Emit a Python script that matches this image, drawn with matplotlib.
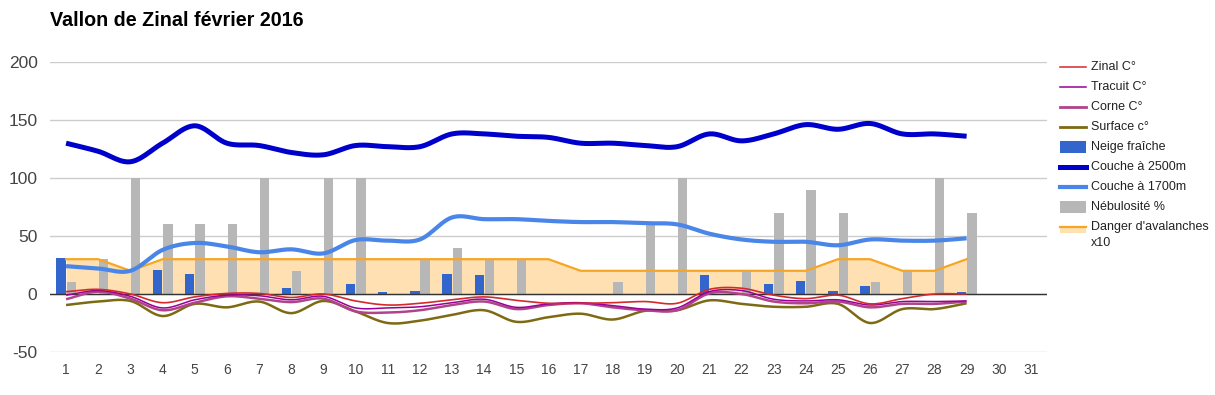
import numpy as np
import matplotlib
matplotlib.use("Agg")
import matplotlib.pyplot as plt
from matplotlib.lines import Line2D
from matplotlib.patches import Rectangle

plt.rcParams['font.family'] = ['Liberation Sans', 'DejaVu Sans']
plt.rcParams['axes.unicode_minus'] = False

# Data (February 2016, days 1..29)
days = list(range(1, 30))
all_days = list(range(1, 32))

zinal = [2, 4, 0, -7.5, -2.5, 0.5, 0.5, -3, 0, -6, -9.5, -8, -5, -2.5, -5.5,
         -8, -8, -7.5, -6.5, -8, 4, 5, -1, -4, -1, -8.5, -4, 0, 0]
tracuit = [-1, 3, -2, -12, -5, -1, -1.5, -5, -2, -12, -12, -11, -7.5, -4.5, -11.5,
           -8.5, -7.5, -10, -13, -12, 2, 3, -4.5, -6, -5, -9.5, -6.5, -6.5, -6]
corne = [-4.5, 2, -4, -14, -7.5, -2, -4, -7, -4, -15, -16, -14, -9.5, -6.5, -13,
         -9.5, -8, -11.5, -14, -14, 0.5, 0, -6.5, -8, -6.5, -11.5, -8.5, -8.5, -6.5]
surface = [-9.5, -6.5, -6, -19, -8.5, -11.5, -6.5, -16.5, -6, -15, -25, -23, -18, -14, -24,
           -20, -17, -22, -14.5, -14, -5.5, -8.5, -11, -11, -8.5, -25, -13, -13, -8]
neige = [31, 0, 0, 21, 17, 0, 0, 5, 0, 9, 2, 3, 17, 16, 0,
         0, 0, 0, 0, 0, 16, 0, 9, 11, 3, 7, 0, 0, 1.5]
couche_2500 = [130, 123, 114, 130, 145, 130, 128, 122, 120, 128, 127, 127, 138, 138, 136,
               135, 130, 130, 128, 127, 138, 132, 138, 146, 142, 147, 138, 138, 136]
couche_1700 = [24, 22, 20, 38, 44, 41, 36, 38.5, 35, 46.5, 46, 47, 66, 64.5, 64.5,
               63, 62, 62, 61, 60, 52, 47, 45, 45, 42, 47, 46, 46, 48]
nebulosite = [10, 30, 100, 60, 60, 60, 100, 20, 100, 100, 0, 30, 40, 30, 30,
              0, 0, 10, 60, 100, 0, 20, 70, 90, 70, 10, 20, 100, 70]
danger = [30, 30, 20, 30, 30, 30, 30, 30, 30, 30, 30, 30, 30, 30, 30,
          30, 20, 20, 20, 20, 20, 20, 20, 20, 30, 30, 20, 20, 30]

c_zinal = '#d42a2a'
c_tracuit = '#990099'
c_corne = '#b0448a'
c_surface = '#7d6a12'
c_neige = '#3366cc'
c_2500 = '#0000cc'
c_1700 = '#4a86e8'
c_neb = '#b7b7b7'
c_danger = '#f6a623'


def smooth(x, y, n=24):
    # cubic hermite with central-difference tangents (catmull-rom)
    x = np.asarray(x, float)
    y = np.asarray(y, float)
    m = np.gradient(y, x)
    xs, ys = [], []
    for i in range(len(x) - 1):
        h = x[i + 1] - x[i]
        t = np.linspace(0, 1, n, endpoint=False)
        h00 = 2 * t**3 - 3 * t**2 + 1
        h10 = t**3 - 2 * t**2 + t
        h01 = -2 * t**3 + 3 * t**2
        h11 = t**3 - t**2
        xs.append(x[i] + t * h)
        ys.append(h00 * y[i] + h10 * h * m[i] + h01 * y[i + 1] + h11 * h * m[i + 1])
    xs.append([x[-1]])
    ys.append([y[-1]])
    return np.concatenate(xs), np.concatenate(ys)


fig = plt.figure(figsize=(12.15, 3.95), dpi=100)
ax = fig.add_axes([50 / 1215, 43 / 395, 997 / 1215, 290 / 395])

# avalanche danger area
ax.fill_between(days, 0, danger, color='#ff9900', alpha=0.3, lw=0, zorder=1)

# bars
bw = 0.29
x = np.array(days)
ax.bar(x - 0.155, neige, width=bw, color=c_neige, zorder=2)
ax.bar(x + 0.165, nebulosite, width=bw, color=c_neb, zorder=2)

ax.plot(days, danger, color=c_danger, lw=1.6, zorder=3)
ax.axhline(0, color='#333333', lw=1, zorder=3)

# smoothed lines
for vals, col, lw in [(couche_2500, c_2500, 3.6), (couche_1700, c_1700, 3.0),
                      (surface, c_surface, 1.8), (corne, c_corne, 1.8),
                      (tracuit, c_tracuit, 1.1), (zinal, c_zinal, 1.2)]:
    sx, sy = smooth(days, vals)
    ax.plot(sx, sy, color=col, lw=lw, zorder=4, solid_capstyle='butt')

ax.set_xlim(0.5, 31.5)
ax.set_ylim(-50, 200)
ax.set_yticks([-50, 0, 50, 100, 150, 200])
ax.set_xticks(all_days)
ax.set_xticklabels([str(d) for d in all_days])
ax.grid(axis='y', color='#cccccc', lw=1, zorder=0)
ax.set_axisbelow(True)
for s in ax.spines.values():
    s.set_visible(False)
ax.tick_params(axis='y', length=0, pad=9, labelsize=12.5, labelcolor='#444444')
ax.tick_params(axis='x', length=0, pad=8, labelsize=10, labelcolor='#444444')

fig.text(50 / 1215, 1 - 21 / 395, 'Vallon de Zinal février 2016', fontsize=14.2,
         fontweight='bold', va='center', ha='left')

# legend drawn by hand
labels = ['Zinal C°', 'Tracuit C°', 'Corne C°', 'Surface c°', 'Neige fraîche',
          'Couche à 2500m', 'Couche à 1700m', 'Nébulosité %', "Danger d'avalanches"]
kinds = [('line', c_zinal, 1.1), ('line', c_tracuit, 1.1), ('line', c_corne, 2.0),
         ('line', c_surface, 2.0), ('box', c_neige, 0), ('line', c_2500, 3.6),
         ('line', c_1700, 3.0), ('box', c_neb, 0), ('area', c_danger, 1.6)]
W, H = 1215, 395
x0, x1 = 1060, 1086
for i, (lab, (kind, col, lw)) in enumerate(zip(labels, kinds)):
    yp = 67 + 20 * i
    fy = 1 - yp / H
    if kind == 'line':
        fig.add_artist(Line2D([x0 / W, x1 / W], [fy, fy], color=col, lw=lw))
    elif kind == 'box':
        fig.add_artist(Rectangle((x0 / W, 1 - (yp + 6) / H), (x1 - x0) / W, 12 / H,
                                 color=col, lw=0))
    else:
        fig.add_artist(Rectangle((x0 / W, 1 - (yp + 6) / H), (x1 - x0) / W, 6 / H,
                                 color='#ff9900', alpha=0.3, lw=0))
        fig.add_artist(Line2D([x0 / W, x1 / W], [fy, fy], color=col, lw=lw))
    fig.text(1091 / W, fy, lab, fontsize=9, va='center', ha='left', color='#222222')
fig.text(1091 / W, 1 - 243 / H, 'x10', fontsize=9, va='center', ha='left', color='#222222')

fig.savefig('out.png', dpi=100)
